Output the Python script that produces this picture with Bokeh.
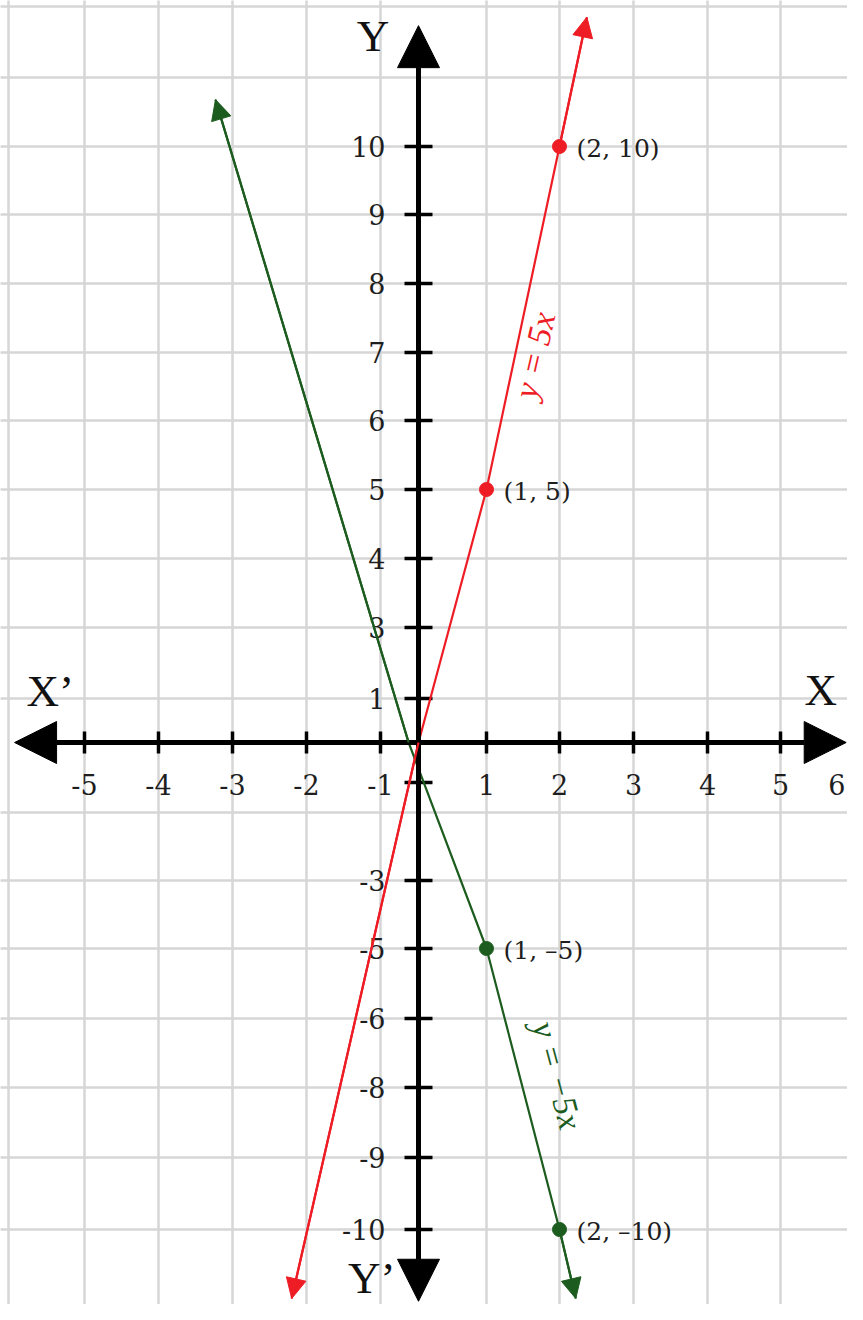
import math
from bokeh.plotting import figure
from bokeh.models import ColumnDataSource, Range1d, LinearInterpolator, Arrow, NormalHead
from bokeh.transform import transform
from bokeh.core.properties import value
from bokeh.embed import file_html
from bokeh.resources import INLINE

# ---------------- data ----------------
x_tick_values = [-5, -4, -3, -2, -1, 1, 2, 3, 4, 5]
x_tick_labels = ["-5", "-4", "-3", "-2", "-1", "1", "2", "3", "4", "5"]
x_end_value = [6]
x_end_label = ["6"]

y_tick_values = [10, 9, 8, 7, 6, 5, 4, 3, 1, -1, -3, -5, -6, -8, -9, -10]
y_label_values = [10, 9, 8, 7, 6, 5, 4, 3, 1, -3, -5, -6, -8, -9, -10]
y_label_texts = ["10", "9", "8", "7", "6", "5", "4", "3", "1",
                 "-3", "-5", "-6", "-8", "-9", "-10"]

x_grid_values = [-6, -5, -4, -3, -2, -1, 1, 2, 3, 4, 5, 6]
y_grid_values = [12, 11, 10, 9, 8, 7, 6, 5, 4, 3, 1, -2, -3, -5, -6, -8, -9, -10]

# y = 5x  (red)
red_line_x = [-2.2, 0, 1, 2, 2.37]
red_line_y = [-11, 0, 5, 10, 11.85]
red_pts_x = [1, 2]
red_pts_y = [5, 10]
red_pts_labels = ["(1, 5)", "(2, 10)"]

# y = -5x  (green)
green_line_x = [-3.23, -0.26, 1, 2, 2.22]
green_line_y = [10.68, 0, -5, -10, -11.0]
green_pts_x = [1, 2]
green_pts_y = [-5, -10]
green_pts_labels = ["(1, \u20135)", "(2, \u201310)"]

# axis extents (value units)
x_axis_span = [-5.92, 5.9]
y_axis_span = [-11.04, 11.73]

# ---------------- scale of the drawing (value -> position) ----------------
# the reference plane is not uniformly spaced, so a piecewise-linear scale is used
x_scale_values = [-7, -6, -5, -4, -3, -2, -1, 0, 1, 2, 3, 4, 5, 6, 7]
x_scale_pos = [-66, 8, 84, 158, 232, 306, 380, 418, 486, 559, 633, 707, 780, 853, 926]
y_scale_values = [13, 12, 11, 10, 9, 8, 7, 6, 5, 4, 3, 1, 0, -1, -2, -3,
                  -5, -6, -8, -9, -10, -11, -12, -13]
y_scale_pos = [-65, 6, 77, 146, 214, 283, 352, 420, 489, 558, 627, 698, 742, 782,
               812, 880, 948, 1018, 1087, 1157, 1229, 1298, 1367, 1436]

xmap = LinearInterpolator(x=x_scale_values, y=x_scale_pos, clip=False)
ymap = LinearInterpolator(x=y_scale_values, y=y_scale_pos, clip=False)

RED = "#ee1c24"
GREEN = "#1d5c1f"
GRID = "#d6d6d6"
TXT = "#1e1e1e"
NUM_FONT = value("DejaVu Serif")
SERIF = value("Liberation Serif")

W, H = 847, 1304
p = figure(width=W, height=H, x_range=Range1d(0, W), y_range=Range1d(H, 0),
           x_axis_type=None, y_axis_type=None, toolbar_location=None,
           output_backend="svg", min_border=0)
p.background_fill_color = "white"
p.outline_line_color = None

X = lambda c: transform(c, xmap)
Y = lambda c: transform(c, ymap)

# ---------------- grid ----------------
lo, hi = -13, 13
vg = ColumnDataSource(dict(x=x_grid_values, y0=[lo] * len(x_grid_values), y1=[hi] * len(x_grid_values)))
p.segment(x0=X("x"), x1=X("x"), y0=Y("y0"), y1=Y("y1"), source=vg,
          line_color=GRID, line_width=2.5)
hg = ColumnDataSource(dict(y=y_grid_values, x0=[-7] * len(y_grid_values), x1=[7] * len(y_grid_values)))
p.segment(x0=X("x0"), x1=X("x1"), y0=Y("y"), y1=Y("y"), source=hg,
          line_color=GRID, line_width=2.5)

# ---------------- axes with arrows ----------------
axis_src = ColumnDataSource(dict(xs=[x_axis_span[0], 0], ys=[0, y_axis_span[0]],
                                 xe=[x_axis_span[1], 0], ye=[0, y_axis_span[1]]))
p.add_layout(Arrow(source=axis_src, x_start=X("xs"), y_start=Y("ys"), x_end=X("xe"), y_end=Y("ye"),
                   line_color="black", line_width=5,
                   start=NormalHead(size=42, fill_color="black", line_color="black"),
                   end=NormalHead(size=42, fill_color="black", line_color="black")))

# tick marks
xt = ColumnDataSource(dict(x=x_tick_values, y=[0] * len(x_tick_values), t=x_tick_labels))
p.scatter(x=X("x"), y=Y("y"), source=xt, marker="dash", angle=math.pi / 2, size=22,
          line_color="black", line_width=3.5)
yt = ColumnDataSource(dict(x=[0] * len(y_tick_values), y=y_tick_values))
p.scatter(x=X("x"), y=Y("y"), source=yt, marker="dash", size=28,
          line_color="black", line_width=3.5)

# tick labels
p.text(x=X("x"), y=Y("y"), text="t", source=xt, y_offset=42, text_align="center",
       text_baseline="middle", text_font=NUM_FONT, text_font_size="27px", text_color=TXT)
xe = ColumnDataSource(dict(x=x_end_value, y=[0], t=x_end_label))
p.text(x=X("x"), y=Y("y"), text="t", source=xe, y_offset=42, x_offset=-8, text_align="right",
       text_baseline="middle", text_font=NUM_FONT, text_font_size="27px", text_color=TXT)
yl = ColumnDataSource(dict(x=[0] * len(y_label_values), y=y_label_values, t=y_label_texts))
p.text(x=X("x"), y=Y("y"), text="t", source=yl, x_offset=-33, text_align="right",
       text_baseline="middle", text_font=NUM_FONT, text_font_size="27px", text_color=TXT)

# axis names
names = ColumnDataSource(dict(x=[-5.45, 5.55, -1.1, -1.12], y=[1.2, 1.24, 11.59, -10.7],
                              t=["X\u2019", "X", "Y", "Y\u2019"]))
p.text(x=X("x"), y=Y("y"), text="t", source=names, text_align="center", text_baseline="middle",
       text_font=SERIF, text_font_size="45px", text_color="#111111")

# ---------------- the two lines ----------------
def draw_series(lx, ly, px, py, labels, color, eq_text, eq_pos, eq_angle):
    src = ColumnDataSource(dict(x=lx, y=ly))
    p.line(x=X("x"), y=Y("y"), source=src, line_color=color, line_width=2.2)
    arr = ColumnDataSource(dict(xs=[lx[1], lx[-2]], ys=[ly[1], ly[-2]],
                                xe=[lx[0], lx[-1]], ye=[ly[0], ly[-1]]))
    p.add_layout(Arrow(source=arr, x_start=X("xs"), y_start=Y("ys"), x_end=X("xe"), y_end=Y("ye"),
                       line_color=color, line_width=2.2,
                       end=NormalHead(size=20, fill_color=color, line_color=color)))
    pts = ColumnDataSource(dict(x=px, y=py, t=labels))
    p.scatter(x=X("x"), y=Y("y"), source=pts, size=14, fill_color=color, line_color=color)
    p.text(x=X("x"), y=Y("y"), text="t", source=pts, x_offset=17, y_offset=2,
           text_align="left", text_baseline="middle", text_font=NUM_FONT,
           text_font_size="25px", text_color=TXT)
    eq = ColumnDataSource(dict(x=[eq_pos[0]], y=[eq_pos[1]], t=[eq_text]))
    p.text(x=X("x"), y=Y("y"), text="t", source=eq, angle=eq_angle, text_align="center",
           text_baseline="middle", text_font=SERIF, text_font_style="italic",
           text_font_size="34px", text_color=color)

draw_series(red_line_x, red_line_y, red_pts_x, red_pts_y, red_pts_labels, RED,
            "y = 5x", (1.66, 6.96), math.radians(77))
draw_series(green_line_x, green_line_y, green_pts_x, green_pts_y, green_pts_labels, GREEN,
            "y = \u22125x", (1.97, -7.65), math.radians(-75))

open("out.html", "w").write(file_html(p, INLINE))
